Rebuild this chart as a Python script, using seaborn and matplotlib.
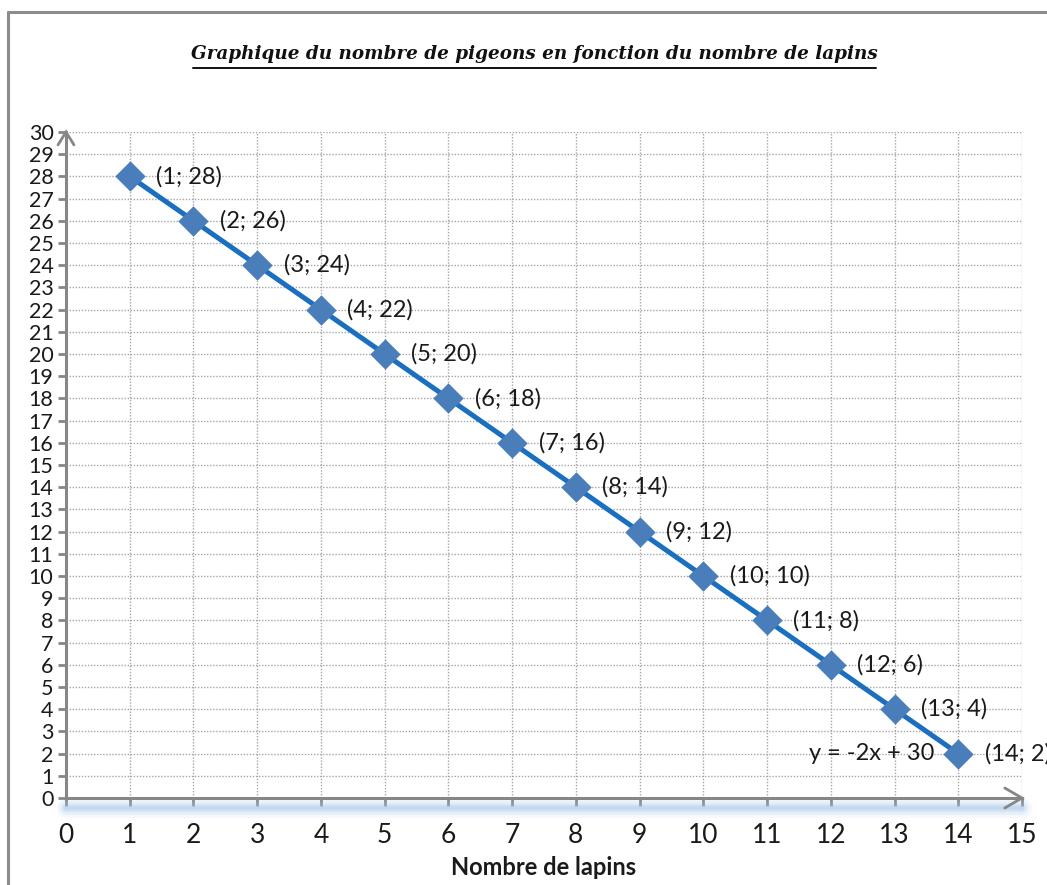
import numpy as np
import pandas as pd
import matplotlib
matplotlib.use("Agg")
import matplotlib.pyplot as plt
import seaborn as sns
from matplotlib.lines import Line2D

# ---- data ----
lapins = [1, 2, 3, 4, 5, 6, 7, 8, 9, 10, 11, 12, 13, 14]
pigeons = [28, 26, 24, 22, 20, 18, 16, 14, 12, 10, 8, 6, 4, 2]
x_ticks = list(range(0, 16))
y_ticks = list(range(0, 31))
title = "Graphique du nombre de pigeons en fonction du nombre de lapins"
xlabel = "Nombre de lapins"
equation = "y = -2x + 30"

df = pd.DataFrame({"lapins": lapins, "pigeons": pigeons})

sns.set_theme(style="white")
plt.rcParams["font.family"] = ["Lato", "DejaVu Sans"]

fig = plt.figure(figsize=(10.47, 8.85), dpi=100)
ax = fig.add_axes([66 / 1047, 1 - 798 / 885, (1022 - 66) / 1047, (798 - 132) / 885])

GRID = "#a6a6a6"
AXC = "#868686"
LINE = "#1a6fc0"
MARK = "#4a7ebb"

ax.set_xlim(0, 15)
ax.set_ylim(0, 30)
ax.set_xticks(x_ticks)
ax.set_yticks(y_ticks)
ax.grid(True, color=GRID, linestyle=(0, (1, 1.2)), linewidth=1.0)
ax.set_axisbelow(True)

# blue glow under the x-axis
for lw, a in [(14, 0.10), (10, 0.15), (6, 0.25), (3, 0.3)]:
    ax.plot([0, 15], [-0.45, -0.45], color="#9dc3e6", lw=lw, alpha=a,
            solid_capstyle="round", clip_on=False, zorder=1)

sns.lineplot(data=df, x="lapins", y="pigeons", ax=ax, color=LINE, lw=3.6,
             zorder=3, legend=False)
sns.scatterplot(data=df, x="lapins", y="pigeons", ax=ax, marker="D", s=240,
                color=MARK, edgecolor=MARK, linewidth=0, zorder=4,
                legend=False, clip_on=False)

for xi, yi in zip(lapins, pigeons):
    ax.annotate(f"({xi}; {yi})", (xi, yi), xytext=(19, 0), textcoords="offset points",
                ha="left", va="center", fontsize=17, color="#1a1a1a",
                annotation_clip=False)

ax.annotate(equation, (14, 2), xytext=(-17, 0), textcoords="offset points",
            ha="right", va="center", fontsize=17, color="#1a1a1a")

for s in ["top", "right"]:
    ax.spines[s].set_visible(False)
for s in ["left", "bottom"]:
    ax.spines[s].set_color(AXC)
    ax.spines[s].set_linewidth(2.2)

ax.tick_params(axis="both", which="major", direction="out", length=6, width=2,
               color=AXC, labelcolor="#1a1a1a", pad=2, left=True, bottom=True)
ax.tick_params(axis="y", labelsize=15.5, pad=3)
ax.tick_params(axis="x", labelsize=19, pad=12)
ax.set_xlabel(xlabel, fontsize=17, fontweight="bold", labelpad=6, color="#1a1a1a")
ax.set_ylabel("")

# arrow heads
ax.plot([-0.125, 0, 0.125], [29.42, 30, 29.42], color=AXC, lw=2, clip_on=False,
        solid_joinstyle="miter", zorder=5)
ax.plot([14.73, 15, 14.73], [0.45, 0, -0.45], color=AXC, lw=2, clip_on=False,
        solid_joinstyle="miter", zorder=5)

# frame lines
fig.add_artist(Line2D([8 / 1047, 8 / 1047], [0, 1 - 12 / 885], transform=fig.transFigure,
                      color="#8c8c8c", lw=2.2))
fig.add_artist(Line2D([8 / 1047, 1], [1 - 12 / 885, 1 - 12 / 885], transform=fig.transFigure,
                      color="#8c8c8c", lw=2.2))

# title (underlined)
t = fig.text(534 / 1047, 1 - 54 / 885, title, ha="center", va="center",
             fontsize=13.2, style="italic", fontweight="bold",
             family=["DejaVu Serif"], color="#111111")
fig.add_artist(Line2D([193 / 1047, 876 / 1047], [1 - 68 / 885, 1 - 68 / 885],
                      transform=fig.transFigure, color="#111111", lw=1.4))

fig.savefig("out.png", dpi=100)
